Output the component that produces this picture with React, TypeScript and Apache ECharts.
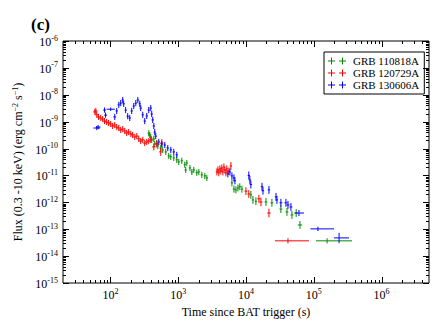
import React, { useEffect, useRef } from 'react';
import * as echarts from 'echarts';

const seriesNames = ['GRB 110818A', 'GRB 120729A', 'GRB 130606A'];
const seriesColors = ['#008c00', '#ff0000', '#0000ff'];

// [time (s), flux (erg cm^-2 s^-1), time error factor, flux error factor]
const grb110818A = [
  [368, 3.7e-10, 1.04, 1.3], [381, 3.2e-10, 1.04, 1.3], [394, 2.7e-10, 1.04, 1.3],
  [407, 2.1e-10, 1.04, 1.3], [437, 2.3e-10, 1.04, 1.3], [451, 1.48e-10, 1.04, 1.3],
  [483, 1.6e-10, 1.04, 1.3], [500, 1.25e-10, 1.04, 1.3], [553, 1.05e-10, 1.04, 1.3],
  [592, 8.9e-11, 1.04, 1.3], [656, 7.5e-11, 1.04, 1.3], [726, 5.3e-11, 1.04, 1.3],
  [778, 4.9e-11, 1.04, 1.3], [861, 4.5e-11, 1.04, 1.3], [953, 3.8e-11, 1.04, 1.3],
  [1020, 3.2e-11, 1.04, 1.3], [1130, 3.5e-11, 1.04, 1.3], [1250, 2.5e-11, 1.04, 1.3],
  [1290, 1.6e-11, 1.04, 1.3], [1340, 2.9e-11, 1.04, 1.3], [1490, 1.9e-11, 1.04, 1.3],
  [1590, 1.35e-11, 1.04, 1.3], [1700, 1.6e-11, 1.04, 1.3], [1880, 1.25e-11, 1.04, 1.3],
  [2015, 1.35e-11, 1.04, 1.3], [2230, 1.05e-11, 1.04, 1.3], [2470, 9.6e-12, 1.04, 1.3],
  [2645, 8.1e-12, 1.04, 1.3],
  [6200, 5.3e-12, 1.04, 1.35], [6640, 3.1e-12, 1.04, 1.35], [7100, 2.9e-12, 1.04, 1.35],
  [7600, 3.4e-12, 1.04, 1.35], [8100, 3.8e-12, 1.04, 1.35], [8700, 3.1e-12, 1.04, 1.35],
  [11800, 1.9e-12, 1.04, 1.4], [12650, 1.23e-12, 1.04, 1.4], [14000, 1.1e-12, 1.04, 1.4],
  [19700, 1.03e-12, 1.05, 1.4], [24100, 9.6e-13, 1.05, 1.4], [32700, 5.6e-13, 1.05, 1.4],
  [40200, 4.4e-13, 1.05, 1.4], [47600, 3.4e-13, 1.05, 1.4], [55000, 4.0e-13, 1.05, 1.4],
  [62500, 1.44e-13, 1.08, 1.4],
];
// [time, flux, time low, time high, flux error factor]
const grb110818ABins = [[157000, 3.7e-14, 108000, 366000, 1.25]];

const grb120729A = [
  [59, 2.3e-9, 1.06, 1.3], [61, 2.5e-9, 1.06, 1.3], [63, 1.8e-9, 1.06, 1.3],
  [67, 1.5e-9, 1.06, 1.3], [72, 1.37e-9, 1.06, 1.3], [77, 1.25e-9, 1.06, 1.3],
  [82, 1.05e-9, 1.06, 1.3], [88, 9.7e-10, 1.06, 1.3], [94, 9.0e-10, 1.06, 1.3],
  [101, 8.2e-10, 1.06, 1.3], [108, 6.9e-10, 1.06, 1.3], [116, 7.5e-10, 1.06, 1.3],
  [124, 6.3e-10, 1.06, 1.3], [133, 5.8e-10, 1.06, 1.3], [142, 4.9e-10, 1.06, 1.3],
  [152, 5.3e-10, 1.06, 1.3], [163, 4.5e-10, 1.06, 1.3], [174, 3.8e-10, 1.06, 1.3],
  [186, 4.1e-10, 1.06, 1.3], [200, 3.5e-10, 1.06, 1.3], [213, 3.2e-10, 1.06, 1.3],
  [229, 2.7e-10, 1.06, 1.3], [245, 2.9e-10, 1.06, 1.3], [262, 2.3e-10, 1.06, 1.3],
  [280, 1.9e-10, 1.06, 1.3], [300, 2.1e-10, 1.06, 1.3], [321, 1.6e-10, 1.06, 1.3],
  [344, 1.76e-10, 1.06, 1.3], [368, 1.9e-10, 1.06, 1.3], [394, 2.1e-10, 1.06, 1.3],
  [437, 1.15e-10, 1.06, 1.35], [483, 1.48e-10, 1.06, 1.35], [553, 7.5e-11, 1.06, 1.4],
  [573, 1.6e-10, 1.06, 1.4],
  [3720, 1.35e-11, 1.04, 1.35], [3850, 1.6e-11, 1.04, 1.35], [3980, 1.25e-11, 1.04, 1.35],
  [4120, 1.75e-11, 1.04, 1.35], [4260, 1.45e-11, 1.04, 1.35], [4400, 1.9e-11, 1.04, 1.35],
  [4560, 1.35e-11, 1.04, 1.35], [4720, 2.05e-11, 1.04, 1.35], [4880, 1.6e-11, 1.04, 1.35],
  [5050, 1.25e-11, 1.04, 1.35], [5220, 1.75e-11, 1.04, 1.35], [5590, 1.45e-11, 1.04, 1.35],
  [5990, 2.25e-11, 1.04, 1.4],
  [9970, 2.6e-12, 1.05, 1.4], [11000, 2.05e-12, 1.05, 1.4], [15500, 1.35e-12, 1.06, 1.4],
  [16600, 1.03e-12, 1.06, 1.45], [21800, 4.0e-13, 1.06, 1.45],
];
const grb120729ABins = [[41600, 3.7e-14, 26700, 84900, 1.25]];

const grb130606A = [
  [63, 5.8e-10, 1.12, 1.2], [66, 6.3e-10, 1.08, 1.2], [82, 2.7e-9, 1.05, 1.25],
  [85, 1.75e-9, 1.05, 1.25], [116, 1.5e-9, 1.05, 1.3], [124, 2.5e-9, 1.04, 1.3],
  [133, 4.2e-9, 1.04, 1.3], [142, 4.9e-9, 1.04, 1.3], [152, 6.4e-9, 1.04, 1.3],
  [157, 4.6e-9, 1.04, 1.3], [168, 2.7e-9, 1.04, 1.3], [180, 1.6e-9, 1.04, 1.3],
  [193, 1.37e-9, 1.04, 1.3], [206, 2.5e-9, 1.04, 1.3], [221, 3.8e-9, 1.04, 1.3],
  [237, 4.9e-9, 1.04, 1.3], [254, 6.4e-9, 1.04, 1.3], [271, 4.6e-9, 1.04, 1.3],
  [280, 3.2e-9, 1.04, 1.3], [300, 1.8e-9, 1.04, 1.3], [321, 1.05e-9, 1.04, 1.3],
  [344, 1.63e-9, 1.04, 1.3], [368, 2.7e-9, 1.04, 1.3], [394, 3.2e-9, 1.04, 1.3],
  [407, 1.93e-9, 1.04, 1.3], [421, 1.16e-9, 1.04, 1.3], [437, 6.9e-10, 1.04, 1.3],
  [451, 4.1e-10, 1.04, 1.3], [467, 2.9e-10, 1.04, 1.3], [517, 1.76e-10, 1.04, 1.3],
  [573, 1.48e-10, 1.04, 1.3], [634, 1.36e-10, 1.04, 1.3], [702, 1.05e-10, 1.04, 1.3],
  [778, 8.9e-11, 1.04, 1.3], [861, 7.5e-11, 1.04, 1.3], [953, 5.8e-11, 1.04, 1.3],
  [5400, 1.14e-11, 1.04, 1.35], [5790, 1.35e-11, 1.04, 1.35], [6200, 9.6e-12, 1.04, 1.35],
  [6640, 8.1e-12, 1.04, 1.35], [6860, 6.3e-12, 1.04, 1.35],
  [11000, 1.0e-11, 1.04, 1.4], [11400, 6.8e-12, 1.04, 1.4], [11800, 4.6e-12, 1.04, 1.4],
  [17200, 3.8e-12, 1.04, 1.4], [17800, 2.7e-12, 1.04, 1.4], [21800, 2.9e-12, 1.04, 1.4],
  [27700, 1.6e-12, 1.04, 1.4], [28600, 1.23e-12, 1.04, 1.4], [32700, 9.6e-13, 1.05, 1.4],
  [38800, 9.6e-13, 1.05, 1.4], [41600, 8.0e-13, 1.05, 1.4], [46000, 6.7e-13, 1.05, 1.4],
];
const grb130606ABins = [
  [101, 2.9e-9, 88, 116, 1.15],
  [60400, 4.0e-13, 52000, 71600, 1.3],
  [115000, 1.03e-13, 89000, 199000, 1.2],
  [236000, 4.75e-14, 199000, 331000, 1.55],
];

const xDecades = [1e2, 1e3, 1e4, 1e5, 1e6];
const yDecades = [1e-15, 1e-14, 1e-13, 1e-12, 1e-11, 1e-10, 1e-9, 1e-8, 1e-7, 1e-6];
const minorMantissas = [2, 3, 4, 5, 6, 7, 8, 9];
const xMin = 20;
const xMax = 5e6;
const yMin = 1e-15;
const yMax = 1e-6;

const FONT = "'Liberation Serif', 'DejaVu Serif', serif";

function buildRows(points: number[][], bins: number[][]) {
  const rows = points.map(([t, f, xe, ye]) => [t, f, t / xe, t * xe, f / ye, f * ye]);
  bins.forEach(([t, f, lo, hi, ye]) => rows.push([t, f, lo, hi, f / ye, f * ye]));
  return rows;
}

function buildTicks() {
  const rows: number[][] = [];
  const xDecadeStarts = [10, ...xDecades];
  xDecadeStarts.forEach((d) => {
    if (d >= xMin && d <= xMax && xDecades.includes(d)) rows.push([d, 1e-10, 1, 0]);
    minorMantissas.forEach((m) => {
      const v = d * m;
      if (v > xMin * 1.0001 && v < xMax * 0.9999) rows.push([v, 1e-10, 0, 0]);
    });
  });
  yDecades.forEach((d) => {
    rows.push([1000, d, 1, 1]);
    minorMantissas.forEach((m) => {
      const v = d * m;
      if (v < yMax * 0.9999) rows.push([1000, v, 0, 1]);
    });
  });
  return rows;
}

const errRender = (params: any, api: any) => {
  const t = api.value(0);
  const f = api.value(1);
  const l = api.coord([api.value(2), f]);
  const r = api.coord([api.value(3), f]);
  const b = api.coord([t, api.value(4)]);
  const u = api.coord([t, api.value(5)]);
  const color = api.visual('color');
  return {
    type: 'group',
    children: [
      { type: 'line', shape: { x1: l[0], y1: l[1], x2: r[0], y2: r[1] }, style: { stroke: color, lineWidth: 1 } },
      { type: 'line', shape: { x1: b[0], y1: b[1], x2: u[0], y2: u[1] }, style: { stroke: color, lineWidth: 1 } },
    ],
  };
};

const tickRender = (params: any, api: any) => {
  const cs = params.coordSys;
  const major = api.value(2) === 1;
  const isY = api.value(3) === 1;
  const len = major ? 6 : 3;
  const st = { stroke: '#000', lineWidth: 1 };
  if (!isY) {
    const px = Math.round(api.coord([api.value(0), 1e-10])[0]) + 0.5;
    const bot = cs.y + cs.height;
    return {
      type: 'group',
      children: [
        { type: 'line', shape: { x1: px, y1: bot, x2: px, y2: bot - len }, style: st },
        { type: 'line', shape: { x1: px, y1: cs.y, x2: px, y2: cs.y + len }, style: st },
      ],
    };
  }
  const py = Math.round(api.coord([1000, api.value(1)])[1]) + 0.5;
  return {
    type: 'group',
    children: [
      { type: 'line', shape: { x1: cs.x, y1: py, x2: cs.x + len, y2: py }, style: st },
      { type: 'line', shape: { x1: cs.x + cs.width, y1: py, x2: cs.x + cs.width - len, y2: py }, style: st },
    ],
  };
};

const powLabel = (v: number) => {
  const lg = Math.log10(v);
  const e = Math.round(lg);
  if (Math.abs(lg - e) > 1e-6) return '';
  return `{b|10}{s|${e}}`;
};

const labelRich = {
  b: { fontFamily: FONT, fontSize: 12, color: '#000', lineHeight: 14, verticalAlign: 'bottom' },
  s: { fontFamily: FONT, fontSize: 8, color: '#000', lineHeight: 14, verticalAlign: 'top', padding: [0, 0, 5, 0] },
};

const legendIcon = 'path://M0 3H7V4H0Z M3 0H4V7H3Z M11 3H18V4H11Z M14 0H15V7H14Z';

export default function App() {
  const ref = useRef<HTMLDivElement>(null);

  useEffect(() => {
    document.body.style.margin = '0';
    if (!ref.current) return;
    const chart = echarts.init(ref.current, undefined, { renderer: 'svg' });
    const dataSets = [
      buildRows(grb110818A, grb110818ABins),
      buildRows(grb120729A, grb120729ABins),
      buildRows(grb130606A, grb130606ABins),
    ];
    const option: any = {
      animation: false,
      backgroundColor: '#fff',
      title: {
        text: '(c)',
        left: 26,
        top: 9,
        textStyle: { fontFamily: FONT, fontWeight: 'bold', fontSize: 17, color: '#000', lineHeight: 20 },
      },
      grid: {
        left: 63,
        top: 41,
        right: 18,
        bottom: 50,
        show: true,
        borderColor: '#000',
        borderWidth: 1,
        backgroundColor: 'transparent',
      },
      legend: {
        left: 324,
        top: 52,
        orient: 'vertical',
        borderColor: '#000',
        borderWidth: 1,
        padding: [3, 5, 3, 4],
        itemGap: 0,
        itemWidth: 18,
        itemHeight: 7,
        itemStyle: { borderWidth: 0 },
        textStyle: { fontFamily: FONT, fontSize: 11, color: '#000', lineHeight: 12, padding: [0, 0, 0, 2] },
        data: seriesNames.map((n) => ({ name: n, icon: legendIcon })),
      },
      xAxis: {
        type: 'log',
        logBase: 10,
        min: xMin,
        max: xMax,
        name: 'Time since BAT trigger (s)',
        nameLocation: 'middle',
        nameGap: 18,
        nameTextStyle: { fontFamily: FONT, fontSize: 12, color: '#000' },
        axisLine: { show: false },
        axisTick: { show: false },
        minorTick: { show: false },
        splitLine: { show: false },
        axisLabel: { formatter: powLabel, rich: labelRich, margin: 4, showMinLabel: false, showMaxLabel: false },
      },
      yAxis: {
        type: 'log',
        logBase: 10,
        min: yMin,
        max: yMax,
        name: 'Flux (0.3 -10 keV) (erg cm{s|−2} s{s|−1})',
        nameLocation: 'middle',
        nameGap: 31,
        nameRotate: 90,
        nameTextStyle: {
          fontFamily: FONT,
          fontSize: 12,
          color: '#000',
          rich: {
            s: { fontFamily: FONT, fontSize: 8, color: '#000', verticalAlign: 'top', padding: [0, 0, 5, 0] },
          },
        },
        axisLine: { show: false },
        axisTick: { show: false },
        minorTick: { show: false },
        splitLine: { show: false },
        axisLabel: { formatter: powLabel, rich: labelRich, margin: 5 },
      },
      series: [
        ...seriesNames.map((name, i) => ({
          type: 'custom',
          name,
          color: seriesColors[i],
          itemStyle: { color: seriesColors[i] },
          renderItem: errRender,
          encode: { x: 0, y: 1 },
          data: dataSets[i],
          clip: true,
          z: 2 + i,
        })),
        {
          type: 'custom',
          name: 'axis ticks',
          renderItem: tickRender,
          encode: { x: 0, y: 1 },
          data: buildTicks(),
          silent: true,
          z: 10,
        },
      ],
    };
    chart.setOption(option);
    return () => chart.dispose();
  }, []);

  return <div ref={ref} style={{ width: 447, height: 333 }} />;
}
